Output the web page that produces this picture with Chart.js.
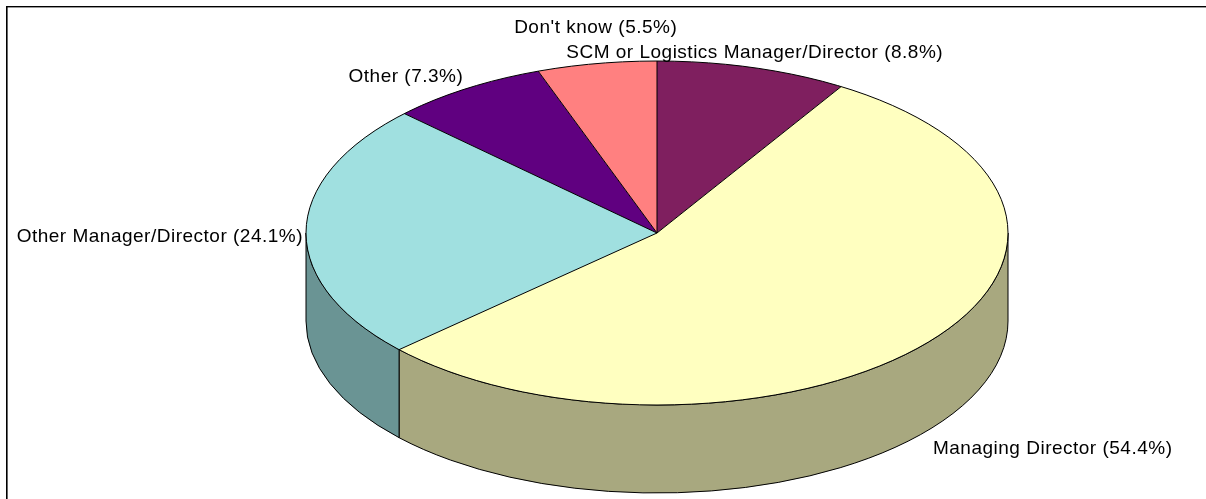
<!DOCTYPE html>
<html><head><meta charset="utf-8">
<script src="https://cdn.jsdelivr.net/npm/chart.js@4/dist/chart.umd.min.js"></script>
<style>html,body{margin:0;padding:0;background:#fff;overflow:hidden}canvas{display:block}</style>
</head><body>
<canvas id="c" width="1206" height="499"></canvas>
<script>
const categories = ["SCM or Logistics Manager/Director", "Managing Director", "Other Manager/Director", "Other", "Don't know"];
const shares = [8.8, 54.4, 24.1, 7.3, 5.5];
const topColors = ["#7F1F5F", "#FFFFC0", "#A0E0E0", "#600080", "#FF8080"];

const PIE_RADIUS = 172;   // vertical radius of the tilted pie
const X_STRETCH = 351 / 172;
const DEPTH = 88;

function shade(hex, f) {
  const n = parseInt(hex.slice(1), 16);
  const r = Math.round(((n >> 16) & 255) * f), g = Math.round(((n >> 8) & 255) * f), b = Math.round((n & 255) * f);
  return `rgb(${r},${g},${b})`;
}

const pie3d = {
  id: 'pie3d',
  beforeDraw(chart) {
    const ctx = chart.ctx;
    ctx.save();
    ctx.fillStyle = '#fff';
    ctx.fillRect(0, 0, chart.width, chart.height);
    ctx.fillStyle = '#000';
    ctx.fillRect(6, 6, 1.6, chart.height);
    ctx.fillRect(6, 6, chart.width, 1.4);
    ctx.restore();
  },
  beforeDatasetsDraw(chart) {
    const ctx = chart.ctx;
    const arcs = chart.getDatasetMeta(0).data;
    const cx = arcs[0].x, cy = arcs[0].y;
    const RY = arcs[0].outerRadius, RX = RY * X_STRETCH;
    ctx.save();
    ctx.lineWidth = 1;
    ctx.strokeStyle = '#000';
    arcs.forEach((a, i) => {
      for (let k = -1; k <= 1; k++) {
        const lo = Math.max(a.startAngle, 2 * Math.PI * k);
        const hi = Math.min(a.endAngle, 2 * Math.PI * k + Math.PI);
        if (hi <= lo) continue;
        ctx.beginPath();
        ctx.ellipse(cx, cy, RX, RY, 0, lo, hi, false);
        ctx.lineTo(cx + RX * Math.cos(hi), cy + DEPTH + RY * Math.sin(hi));
        ctx.ellipse(cx, cy + DEPTH, RX, RY, 0, hi, lo, true);
        ctx.closePath();
        ctx.fillStyle = shade(topColors[i], 0.66);
        ctx.fill();
        ctx.stroke();
      }
    });
    ctx.restore();
    ctx.save();
    ctx.translate(cx, cy);
    ctx.scale(X_STRETCH, 1);
    ctx.translate(-cx, -cy);
  },
  afterDatasetsDraw(chart, args, opts) {
    const ctx = chart.ctx;
    ctx.restore();
    const arcs = chart.getDatasetMeta(0).data;
    const cx = arcs[0].x, cy = arcs[0].y;
    const RY = arcs[0].outerRadius, RX = RY * X_STRETCH;
    ctx.save();
    ctx.lineWidth = 1;
    ctx.strokeStyle = '#000';
    ctx.beginPath();
    ctx.ellipse(cx, cy, RX, RY, 0, 0, Math.PI * 2);
    ctx.stroke();
    arcs.forEach(a => {
      ctx.beginPath();
      ctx.moveTo(cx, cy);
      ctx.lineTo(cx + RX * Math.cos(a.startAngle), cy + RY * Math.sin(a.startAngle));
      ctx.stroke();
    });
    // labels
    ctx.fillStyle = '#000';
    ctx.font = '19px "Liberation Sans", Arial, sans-serif';
    ctx.letterSpacing = '0.5px';
    ctx.textBaseline = 'alphabetic';
    arcs.forEach((a, i) => {
      const mid = (a.startAngle + a.endAngle) / 2;
      const px = cx + RX * Math.cos(mid), py = cy + RY * Math.sin(mid);
      const o = opts.labels[i];
      const text = `${categories[i]} (${shares[i].toFixed(1)}%)`;
      const w = ctx.measureText(text).width;
      let x = px + o.dx;
      if (o.align === 'center') x -= w / 2;
      else if (o.align === 'right') x -= w;
      ctx.textAlign = 'left';
      ctx.fillText(text, x, py + o.dy);
    });
    ctx.restore();
  }
};

new Chart(document.getElementById('c'), {
  type: 'pie',
  data: {
    labels: categories,
    datasets: [{
      data: shares,
      backgroundColor: topColors,
      borderWidth: 0,
      clip: false
    }]
  },
  options: {
    responsive: false,
    animation: false,
    events: [],
    radius: PIE_RADIUS,
    layout: { padding: { left: 457, right: 349, top: 33, bottom: 66 } },
    plugins: {
      legend: { display: false },
      tooltip: { enabled: false },
      pie3d: {
        labels: [
          { dx: 2, dy: -9.5, align: 'center' },
          { dx: 5, dy: 112, align: 'left' },
          { dx: -3, dy: 11, align: 'right' },
          { dx: -3, dy: -7, align: 'right' },
          { dx: -1, dy: -30.5, align: 'center' }
        ]
      }
    }
  },
  plugins: [pie3d]
});
</script>
</body></html>
